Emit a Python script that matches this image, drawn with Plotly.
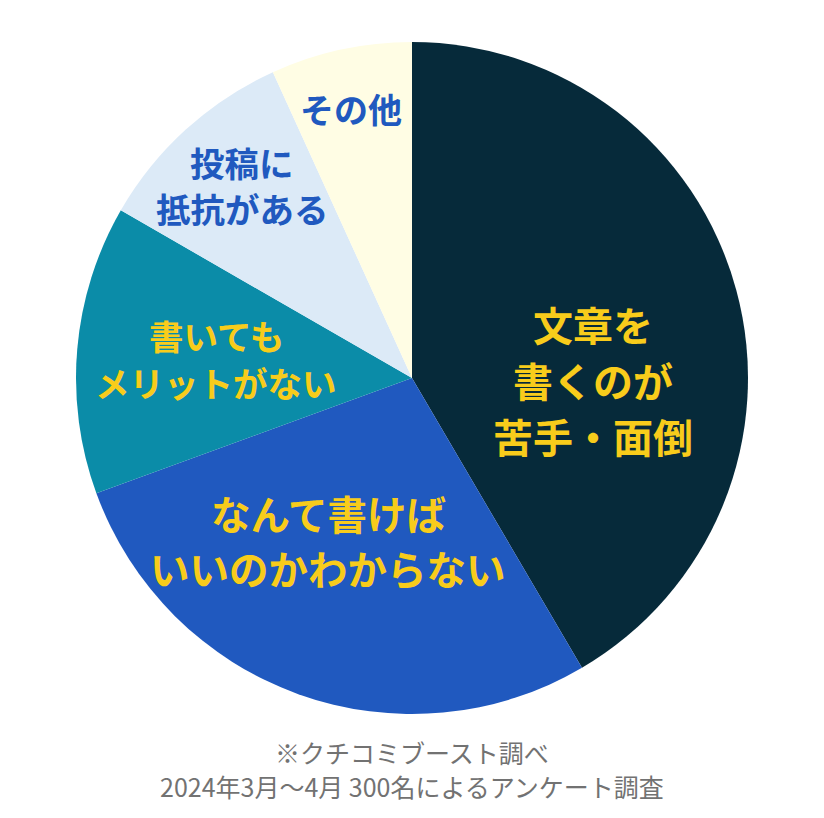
import plotly.graph_objects as go

labels = ["文章を<br>書くのが<br>苦手・面倒",
          "なんて書けば<br>いいのかわからない",
          "書いても<br>メリットがない",
          "投稿に<br>抵抗がある",
          "その他"]
values = [41.6, 27.9, 13.9, 9.9, 6.8]
colors = ["#062a3a", "#2059bf", "#0b8ca8", "#dceaf7", "#fffde4"]
text_colors = ["#f8cc1b", "#f8cc1b", "#f8cc1b", "#2059bf", "#2059bf"]
notes = ["※クチコミブースト調べ", "2024年3月〜4月 300名によるアンケート調査"]

W, H = 824, 818
OFF = 8  # page body margin
# label centre positions (px in screenshot), line pitch, font size
label_pos = [(593, 380, 56, 40), (328, 540, 55, 39.5), (216, 358, 47, 34.5),
             (242, 185, 46, 34.5), (351, 108, 0, 34)]

cx0, cy0, R = 412 - OFF, 378 - OFF, 336
fig = go.Figure(go.Pie(
    labels=[l.replace("<br>", "") for l in labels], values=values, sort=False,
    direction="clockwise", rotation=0,
    marker=dict(colors=colors, line=dict(width=0)),
    textinfo="none", hoverinfo="label+percent",
    domain=dict(x=[(cx0 - R) / W, (cx0 + R) / W], y=[1 - (cy0 + R) / H, 1 - (cy0 - R) / H]),
))

ann = []
for lab, col, (cx, cy, pitch, fs) in zip(labels, text_colors, label_pos):
    lines = lab.split("<br>")
    n = len(lines)
    for i, ln in enumerate(lines):
        py = cy + (i - (n - 1) / 2) * pitch - OFF
        ann.append(dict(x=(cx - OFF) / W, y=1 - py / H, xref="paper", yref="paper", text=ln,
                        showarrow=False, xanchor="center", yanchor="middle",
                        font=dict(family="Noto Sans CJK JP", size=fs, color=col, weight="bold")))
for i, t in enumerate(notes):
    ann.append(dict(x=(412 - OFF) / W, y=1 - (752 + 34 * i - OFF) / H, xref="paper", yref="paper", text=t,
                    showarrow=False, xanchor="center", yanchor="middle",
                    font=dict(family="Noto Sans CJK JP", size=25, color="#727272")))

fig.update_layout(width=W, height=H, margin=dict(l=0, r=0, t=0, b=0),
                  paper_bgcolor="white", plot_bgcolor="white", showlegend=False,
                  annotations=ann)
fig.write_html("out.html")
